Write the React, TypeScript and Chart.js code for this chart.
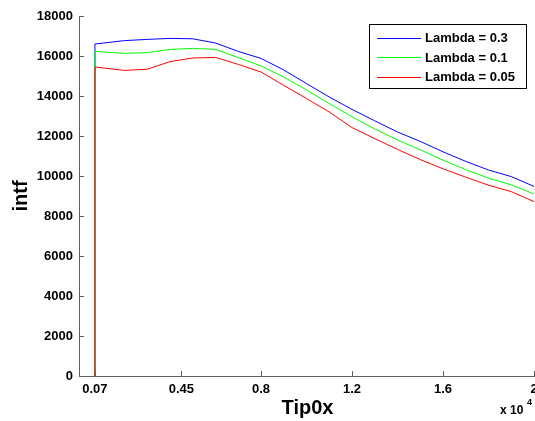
import React, { useEffect, useRef } from "react";
import { Chart, registerables } from "chart.js";

Chart.register(...registerables);

const tipX = [700, 700, 2000, 3000, 4000, 5000, 6000, 7000, 8000, 9000, 10000, 11000, 12000, 13000, 14000, 15000, 16000, 17000, 18000, 19000, 20000];
const lambda03 = [0, 16600, 16770, 16830, 16880, 16860, 16650, 16230, 15880, 15300, 14620, 13950, 13330, 12760, 12200, 11730, 11210, 10730, 10300, 9970, 9480];
const lambda01 = [0, 16230, 16130, 16170, 16330, 16380, 16330, 15920, 15500, 14950, 14300, 13620, 12960, 12350, 11800, 11310, 10790, 10320, 9890, 9560, 9100];
const lambda005 = [0, 15450, 15280, 15340, 15720, 15900, 15930, 15580, 15200, 14530, 13870, 13200, 12420, 11870, 11330, 10820, 10360, 9940, 9540, 9220, 8720];

const seriesLabels = ["Lambda = 0.3", "Lambda = 0.1", "Lambda = 0.05"];
const seriesColors = ["#0000ff", "#00ff00", "#ff0000"];
const xTickValues = [700, 4500, 8000, 12000, 16000, 20000];
const xTickLabels = ["0.07", "0.45", "0.8", "1.2", "1.6", "2"];
const xTitle = "Tip0x";
const yTitle = "intf";

const FONT = "'Liberation Sans', Arial, sans-serif";
const AXIS_COLOR = "#606060";

const overlayPlugin = {
  id: "overlay",
  afterDraw(chart: any) {
    const ctx = chart.ctx;
    const xs = chart.scales.x;
    const ys = chart.scales.y;
    const area = chart.chartArea;
    ctx.save();
    ctx.strokeStyle = AXIS_COLOR;
    ctx.lineWidth = 1;
    ys.ticks.forEach((t: any) => {
      const py = Math.round(ys.getPixelForValue(t.value)) + 0.5;
      ctx.beginPath();
      ctx.moveTo(area.left, py);
      ctx.lineTo(area.left + 5, py);
      ctx.stroke();
    });
    xs.ticks.forEach((t: any) => {
      const px = Math.round(xs.getPixelForValue(t.value)) + 0.5;
      ctx.beginPath();
      ctx.moveTo(px, area.bottom);
      ctx.lineTo(px, area.bottom - 5);
      ctx.stroke();
    });
    ctx.fillStyle = "#000";
    ctx.font = "bold 20px " + FONT;
    ctx.textAlign = "center";
    ctx.textBaseline = "middle";
    ctx.fillText(xTitle, (area.left + area.right) / 2 + 1, 408);
    ctx.save();
    ctx.translate(21, (area.top + area.bottom) / 2);
    ctx.rotate(-Math.PI / 2);
    ctx.fillText(yTitle, 0, 0);
    ctx.restore();
    ctx.font = "bold 12px " + FONT;
    ctx.textAlign = "left";
    ctx.fillText("x 10", 500, 411);
    ctx.font = "bold 9px " + FONT;
    ctx.fillText("4", 527, 403);
    const bx = 369.5, by = 24.5, bw = 157, bh = 64;
    ctx.fillStyle = "#fff";
    ctx.fillRect(bx, by, bw, bh);
    ctx.strokeStyle = "#000";
    ctx.strokeRect(bx, by, bw, bh);
    ctx.font = "bold 13px " + FONT;
    ctx.textBaseline = "middle";
    chart.data.datasets.forEach((ds: any, i: number) => {
      const ly = 37.5 + i * 19.5;
      ctx.strokeStyle = ds.borderColor;
      ctx.beginPath();
      ctx.moveTo(377, Math.round(ly) + 0.5);
      ctx.lineTo(421, Math.round(ly) + 0.5);
      ctx.stroke();
      ctx.fillStyle = "#000";
      ctx.fillText(ds.label, 425, ly + 1);
    });
    ctx.restore();
  },
};

export default function App() {
  const ref = useRef<HTMLCanvasElement>(null);
  useEffect(() => {
    if (!ref.current) return;
    const mk = (vals: number[]) => tipX.map((x, i) => ({ x, y: vals[i] }));
    const chart = new Chart(ref.current, {
      type: "line",
      data: {
        datasets: [lambda03, lambda01, lambda005].map((vals, i) => ({
          label: seriesLabels[i],
          data: mk(vals),
          borderColor: seriesColors[i],
          backgroundColor: seriesColors[i],
          borderWidth: 1,
          pointRadius: 0,
          tension: 0,
          fill: false,
          order: 2 - i,
        })),
      },
      options: {
        responsive: false,
        animation: false,
        devicePixelRatio: 1,
        layout: { padding: { top: 16, right: 1, left: 0, bottom: 0 } },
        plugins: { legend: { display: false }, tooltip: { enabled: false } },
        scales: {
          x: {
            type: "linear",
            min: 0,
            max: 20000,
            grid: { display: false, drawTicks: false },
            border: { display: true, color: AXIS_COLOR, width: 1 },
            afterBuildTicks: (scale: any) => {
              scale.ticks = xTickValues.map((v) => ({ value: v }));
            },
            afterFit: (scale: any) => {
              scale.height = 45;
              scale.paddingLeft = 0;
              scale.paddingRight = 0;
            },
            ticks: {
              autoSkip: false,
              maxRotation: 0,
              padding: 6,
              color: "#000",
              font: { family: FONT, size: 13, weight: "bold" },
              callback: (_v: any, i: number) => xTickLabels[i],
            },
          },
          y: {
            min: 0,
            max: 18000,
            grid: { display: false, drawTicks: false },
            border: { display: true, color: AXIS_COLOR, width: 1 },
            afterFit: (scale: any) => {
              scale.width = 79;
              scale.paddingTop = 0;
              scale.paddingBottom = 0;
            },
            ticks: {
              stepSize: 2000,
              padding: 6,
              color: "#000",
              font: { family: FONT, size: 13, weight: "bold" },
              callback: (v: any) => String(v),
            },
          },
        },
      },
      plugins: [overlayPlugin],
    } as any);
    return () => chart.destroy();
  }, []);
  return (
    <div style={{ position: "absolute", left: 0, top: 0, width: 535, height: 421, background: "#fff" }}>
      <canvas ref={ref} width={535} height={421} />
    </div>
  );
}
